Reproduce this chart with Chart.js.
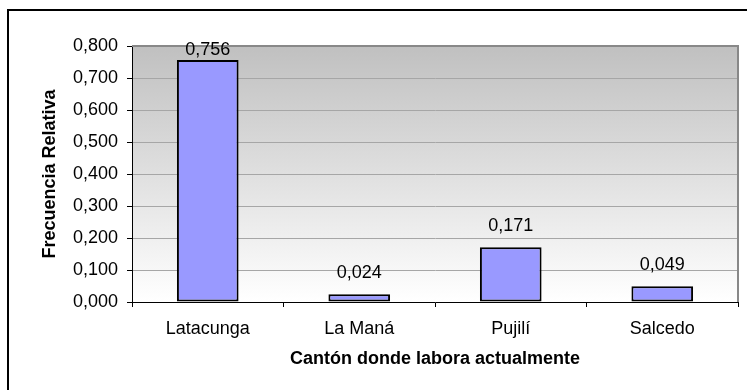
<!DOCTYPE html>
<html>
<head>
<meta charset="utf-8">
<script src="https://cdn.jsdelivr.net/npm/chart.js@4"></script>
<style>
  html, body { margin: 0; padding: 0; background: #fff; overflow: hidden; width: 747px; height: 390px; }
  #frame { position: absolute; left: 7px; top: 9px; width: 900px; height: 600px;
           border-left: 2px solid #000; border-top: 2px solid #000; }
  #chart { position: absolute; left: 0; top: 0; }
</style>
</head>
<body>
<div id="frame"></div>
<canvas id="chart" width="747" height="390"></canvas>
<script>
// Relative frequency of respondents by the canton where they currently work
const cantones = ['Latacunga', 'La Maná', 'Pujilí', 'Salcedo'];
const frecuenciaRelativa = [0.756, 0.024, 0.171, 0.049];
const yTickLabels = ['0,000', '0,100', '0,200', '0,300', '0,400', '0,500', '0,600', '0,700', '0,800'];

const FONT = "'Liberation Sans', Arial, sans-serif";
const fmt = v => v.toFixed(3).replace('.', ',');

// Grey-to-white fill behind the plot
const plotBackground = {
  id: 'plotBackground',
  beforeDraw(chart) {
    const { ctx, chartArea: a } = chart;
    const g = ctx.createLinearGradient(0, a.top, 0, a.bottom);
    g.addColorStop(0, '#c0c0c0');
    g.addColorStop(1, '#ffffff');
    ctx.save();
    ctx.fillStyle = g;
    ctx.fillRect(a.left, a.top, a.right - a.left, a.bottom - a.top);
    ctx.restore();
  }
};

// Grey edges on the top and right of the plot
const plotEdges = {
  id: 'plotEdges',
  afterDatasetsDraw(chart) {
    const { ctx, chartArea: a } = chart;
    ctx.save();
    ctx.strokeStyle = '#888888';
    ctx.lineWidth = 2;
    ctx.beginPath();
    ctx.moveTo(a.left, a.top);
    ctx.lineTo(a.right, a.top);
    ctx.lineTo(a.right, a.bottom);
    ctx.stroke();
    ctx.restore();
  }
};

// Value printed above each bar
const valueLabels = {
  id: 'valueLabels',
  afterDatasetsDraw(chart) {
    const { ctx, chartArea: a } = chart;
    const meta = chart.getDatasetMeta(0);
    const data = chart.data.datasets[0].data;
    ctx.save();
    ctx.font = '18px ' + FONT;
    ctx.fillStyle = '#000';
    ctx.textAlign = 'center';
    ctx.textBaseline = 'alphabetic';
    meta.data.forEach((bar, i) => {
      const y = Math.max(bar.y - 16, a.top + 9);
      ctx.fillText(fmt(data[i]), bar.x, y);
    });
    ctx.restore();
  }
};

new Chart(document.getElementById('chart'), {
  type: 'bar',
  data: {
    labels: cantones,
    datasets: [{
      data: frecuenciaRelativa,
      backgroundColor: '#9999ff',
      borderColor: '#000000',
      borderWidth: 2,
      borderSkipped: false,
      barPercentage: 0.407,
      categoryPercentage: 1.0
    }]
  },
  options: {
    responsive: false,
    devicePixelRatio: 1,
    animation: false,
    layout: { padding: { top: 46, right: 9, left: 0, bottom: 0 } },
    plugins: { legend: { display: false }, tooltip: { enabled: false } },
    scales: {
      x: {
        grid: { display: true, offset: true, drawOnChartArea: false, tickLength: 5, tickColor: '#000', lineWidth: 1 },
        border: { display: true, color: '#000', width: 1 },
        ticks: { color: '#000', font: { family: FONT, size: 18 }, padding: 11, maxRotation: 0 },
        title: {
          display: true,
          text: 'Cantón donde labora actualmente',
          color: '#000',
          font: { family: FONT, size: 18, weight: 'bold' },
          padding: { top: 0, bottom: 20 }
        },
        afterFit(scale) { scale.height = 88; }
      },
      y: {
        min: 0,
        max: 0.8,
        grid: { color: '#a6a6a6', lineWidth: 1, tickLength: 5, tickColor: '#000' },
        border: { display: true, color: '#000', width: 1 },
        ticks: {
          stepSize: 0.1,
          color: '#000',
          font: { family: FONT, size: 18 },
          padding: 9,
          callback: (v, i) => yTickLabels[i]
        },
        title: {
          display: true,
          text: 'Frecuencia Relativa',
          color: '#000',
          font: { family: FONT, size: 18, weight: 'bold' },
          padding: { top: 39, bottom: 0 }
        },
        afterFit(scale) { scale.width = 132; }
      }
    }
  },
  plugins: [plotBackground, plotEdges, valueLabels]
});
</script>
</body>
</html>
